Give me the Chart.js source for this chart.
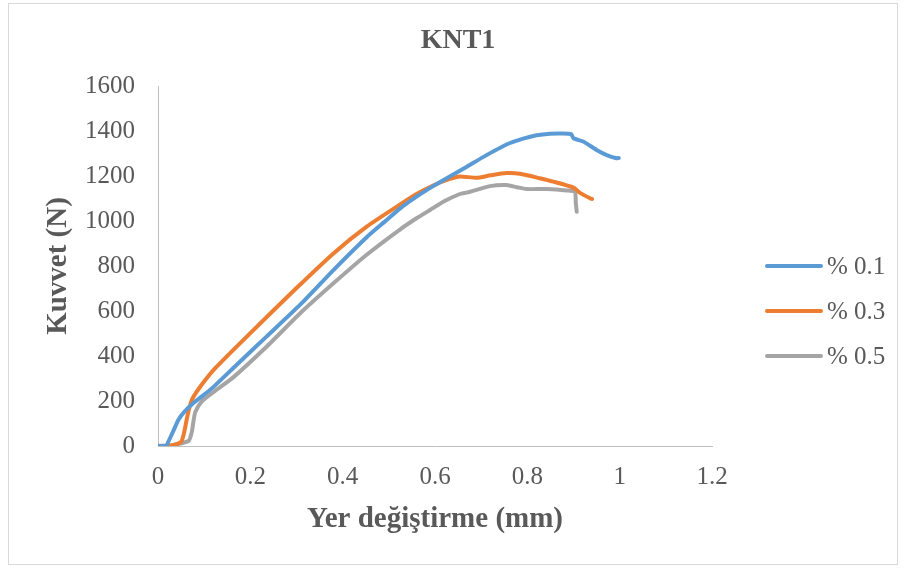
<!DOCTYPE html>
<html>
<head>
<meta charset="utf-8">
<script src="https://cdn.jsdelivr.net/npm/chart.js@4/dist/chart.umd.min.js"></script>
<style>
  html, body { margin: 0; padding: 0; background: #ffffff; }
  #wrap { width: 906px; height: 570px; position: relative; }
</style>
</head>
<body>
<div id="wrap"><canvas id="chart" width="906" height="570"></canvas></div>
<script>
// Displacement (mm) and force (N) readings for the three KNT ratios
const seriesLabels = ['% 0.1', '% 0.3', '% 0.5'];
const seriesColors = ['#5B9BD5', '#ED7D31', '#A5A5A5'];

const disp01 = [0, 0.018, 0.022, 0.033, 0.044, 0.057, 0.078, 0.116, 0.17, 0.235, 0.308, 0.38, 0.452, 0.49, 0.524, 0.56, 0.596, 0.632, 0.668, 0.705, 0.755, 0.791, 0.82, 0.849, 0.875, 0.895, 0.9, 0.921, 0.95, 0.972, 0.993, 0.998];
const force01 = [0, 2, 17, 66, 116, 152, 193, 255, 360, 486, 628, 782, 928, 995, 1055, 1108, 1155, 1198, 1240, 1285, 1340, 1366, 1381, 1388, 1389, 1386, 1368, 1353, 1316, 1293, 1279, 1280];

const disp03 = [0, 0.033, 0.05, 0.056, 0.062, 0.068, 0.075, 0.093, 0.125, 0.2, 0.3, 0.38, 0.452, 0.524, 0.56, 0.596, 0.632, 0.654, 0.69, 0.72, 0.755, 0.784, 0.827, 0.856, 0.9, 0.914, 0.936, 0.94];
const force03 = [0, 3, 18, 55, 116, 170, 212, 268, 348, 502, 702, 856, 975, 1073, 1120, 1158, 1187, 1198, 1192, 1203, 1213, 1210, 1190, 1175, 1148, 1125, 1101, 1098];

const disp05 = [0, 0.03, 0.066, 0.073, 0.077, 0.081, 0.095, 0.123, 0.163, 0.235, 0.308, 0.38, 0.452, 0.524, 0.56, 0.59, 0.62, 0.654, 0.668, 0.676, 0.719, 0.755, 0.778, 0.798, 0.842, 0.885, 0.903, 0.905, 0.907];
const force05 = [0, 4, 22, 60, 112, 152, 198, 244, 305, 441, 590, 723, 850, 962, 1012, 1050, 1088, 1120, 1126, 1130, 1155, 1160, 1150, 1142, 1142, 1136, 1130, 1079, 1041];

const xAxis = { min: 0, max: 1.2, step: 0.2 };
const yAxis = { min: 0, max: 1600, step: 200 };

const chartTitle = 'KNT1';
const xTitle = 'Yer değiştirme (mm)';
const yTitle = 'Kuvvet (N)';

const SERIF = "'Liberation Serif', 'Times New Roman', serif";
const TEXT = '#595959';

function points(xs, ys) {
  return xs.map((x, i) => ({ x: x, y: ys[i] }));
}

const datasets = [
  [disp01, force01],
  [disp03, force03],
  [disp05, force05]
].map((pair, i) => ({
  label: seriesLabels[i],
  data: points(pair[0], pair[1]),
  borderColor: seriesColors[i],
  backgroundColor: seriesColors[i],
  borderWidth: 4,
  showLine: true,
  pointRadius: 0,
  pointHoverRadius: 0,
  tension: 0.2,
  borderCapStyle: 'round',
  borderJoinStyle: 'round',
  fill: false
}));

// White background, outer frame and the centred chart title
const framePlugin = {
  id: 'frame',
  beforeDraw(chart) {
    const ctx = chart.ctx;
    ctx.save();
    ctx.fillStyle = '#ffffff';
    ctx.fillRect(0, 0, chart.width, chart.height);
    ctx.strokeStyle = '#d9d9d9';
    ctx.lineWidth = 1;
    ctx.strokeRect(8.5, 3.5, 889, 561);
    ctx.font = 'bold 28px ' + SERIF;
    ctx.fillStyle = TEXT;
    ctx.textAlign = 'center';
    ctx.textBaseline = 'middle';
    ctx.fillText(chartTitle, 458, 41);
    ctx.restore();
  }
};

// Legend at the right: a short line and the series name
const sideLegend = {
  id: 'sideLegend',
  afterDraw(chart) {
    const ctx = chart.ctx;
    const x0 = 767, lineLen = 54, gap = 6, y0 = 266, dy = 45;
    ctx.save();
    ctx.font = '25px ' + SERIF;
    ctx.textBaseline = 'middle';
    ctx.textAlign = 'left';
    chart.data.datasets.forEach((ds, i) => {
      const y = y0 + i * dy;
      ctx.strokeStyle = ds.borderColor;
      ctx.lineWidth = 4;
      ctx.lineCap = 'round';
      ctx.beginPath();
      ctx.moveTo(x0, y);
      ctx.lineTo(x0 + lineLen, y);
      ctx.stroke();
      ctx.fillStyle = TEXT;
      ctx.fillText(ds.label, x0 + lineLen + gap, y + 1);
    });
    ctx.restore();
  }
};

function plainNumber(value) {
  return String(Math.round(value * 1000) / 1000);
}

new Chart(document.getElementById('chart'), {
  type: 'scatter',
  data: { datasets: datasets },
  plugins: [framePlugin, sideLegend],
  options: {
    responsive: false,
    animation: false,
    events: [],
    layout: { padding: { left: 0, right: 194, top: 86, bottom: 0 } },
    plugins: {
      legend: { display: false },
      tooltip: { enabled: false },
      title: { display: false }
    },
    scales: {
      x: {
        type: 'linear',
        min: xAxis.min,
        max: xAxis.max,
        grid: { display: false, drawTicks: false },
        border: { display: true, color: '#bfbfbf', width: 1 },
        ticks: {
          stepSize: xAxis.step,
          color: TEXT,
          padding: 16,
          font: { family: SERIF, size: 25 },
          maxRotation: 0,
          autoSkip: false,
          callback: plainNumber
        },
        title: {
          display: true,
          text: xTitle,
          color: TEXT,
          font: { family: SERIF, size: 29, weight: 'bold', lineHeight: 1.2 },
          padding: { top: 0, bottom: 33 }
        },
        afterFit(scale) { scale.height = 124; }
      },
      y: {
        type: 'linear',
        min: yAxis.min,
        max: yAxis.max,
        grid: { display: false, drawTicks: false },
        border: { display: true, color: '#bfbfbf', width: 1 },
        ticks: {
          stepSize: yAxis.step,
          color: TEXT,
          padding: 23,
          font: { family: SERIF, size: 25 },
          autoSkip: false,
          callback: plainNumber
        },
        title: {
          display: true,
          text: yTitle,
          color: TEXT,
          font: { family: SERIF, size: 29, weight: 'bold', lineHeight: 1.2 },
          padding: { top: 41, bottom: 0 }
        },
        afterFit(scale) { scale.width = 158; }
      }
    }
  }
});
</script>
</body>
</html>
